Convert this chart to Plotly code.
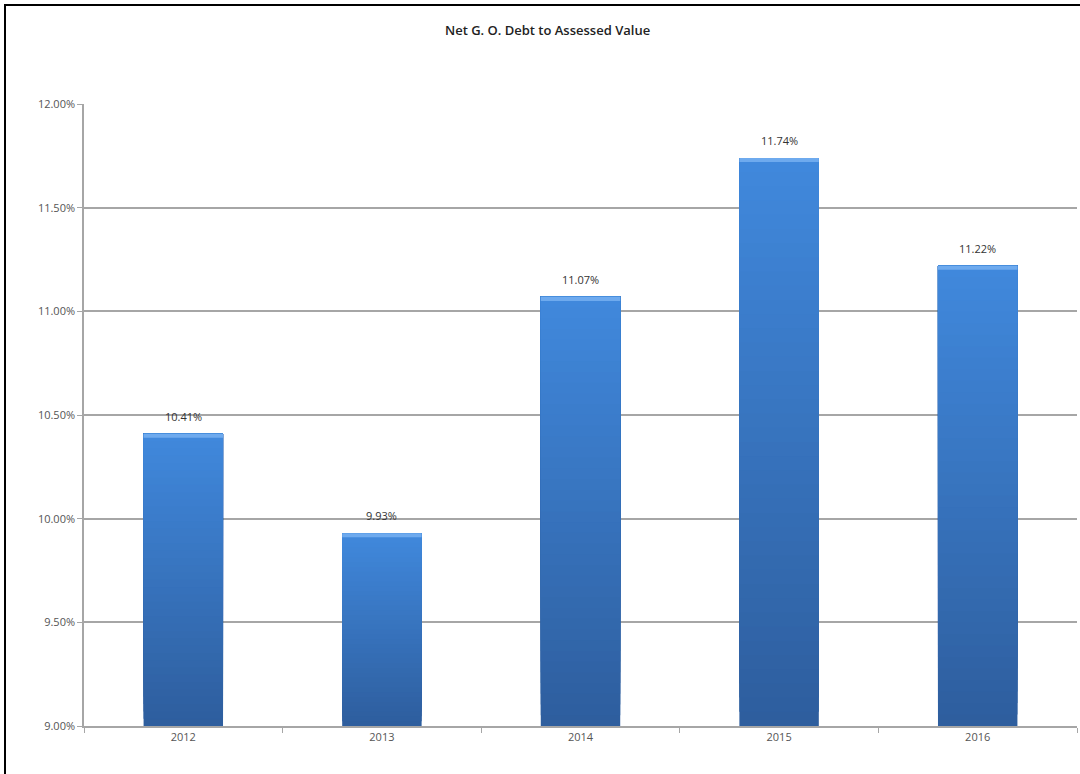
import plotly.graph_objects as go

years = ["2012", "2013", "2014", "2015", "2016"]
values = [10.41, 9.93, 11.07, 11.74, 11.22]
labels = ["10.41%", "9.93%", "11.07%", "11.74%", "11.22%"]
y_ticks = [9.0, 9.5, 10.0, 10.5, 11.0, 11.5, 12.0]
y_min = 9.0

top_rgb = (64, 136, 220)
bot_rgb = (46, 94, 158)
N = 40

fig = go.Figure()
for i in range(N):
    t = i / (N - 1)
    c = tuple(round(bot_rgb[k] + (top_rgb[k] - bot_rgb[k]) * t) for k in range(3))
    bases = [y_min + (v - y_min) * i / N for v in values]
    fig.add_trace(go.Bar(
        x=years,
        base=bases,
        y=[v - b for v, b in zip(values, bases)],
        marker=dict(color="rgb(%d,%d,%d)" % c, line=dict(width=0)),
        width=0.4, showlegend=False, hoverinfo="skip",
    ))
# light top cap
fig.add_trace(go.Bar(
    x=years,
    base=[v - 0.02 for v in values],
    y=[0.02 for v in values],
    marker=dict(color="rgb(110,170,238)", line=dict(width=0)),
    width=0.4, showlegend=False, hoverinfo="skip",
))

for idx, (v, lab) in enumerate(zip(values, labels)):
    fig.add_annotation(x=idx, y=v, text=lab, showarrow=False,
                       xref="x", yref="y",
                       yanchor="bottom", yshift=8,
                       font=dict(family="Open Sans, sans-serif", size=11, color="#333333"))

pw, ph = 993, 622
fig.add_shape(type="rect", xref="paper", yref="paper",
              x0=(5 - 84) / pw, x1=1.05, y0=-0.2, y1=(726 - 5) / ph,
              line=dict(color="black", width=2), fillcolor="rgba(0,0,0,0)", layer="above")

fig.update_layout(
    width=1080, height=774,
    margin=dict(l=84, r=3, t=104, b=48),
    paper_bgcolor="white", plot_bgcolor="white",
    barmode="overlay", bargap=0.6,
    title=dict(text="Net G. O. Debt to Assessed Value", x=0.507, xanchor="center",
               y=1 - 30 / 774, yanchor="middle",
               font=dict(family="Open Sans, sans-serif", size=13, color="#222222", weight=600)),
    font=dict(family="Open Sans, sans-serif", size=11, color="#444444"),
)
fig.update_yaxes(
    range=[9, 12], tickvals=y_ticks,
    ticktext=["%.2f%%" % v for v in y_ticks],
    showgrid=True, gridcolor="#a6a6a6", gridwidth=1.5,
    showline=True, linecolor="#a6a6a6", linewidth=1.5,
    ticks="outside", ticklen=5, tickcolor="#a6a6a6",
    zeroline=False, tickfont=dict(size=11, color="#555555"),
)
fig.update_xaxes(
    type="category", categoryorder="array", categoryarray=years,
    range=[-0.5, len(years) - 0.5],
    showline=True, linecolor="#a6a6a6", linewidth=1.5,
    ticks="outside", tickson="boundaries", ticklen=5, tickcolor="#a6a6a6",
    showgrid=False, tickfont=dict(size=11, color="#555555"),
)

fig.write_html("out.html")
